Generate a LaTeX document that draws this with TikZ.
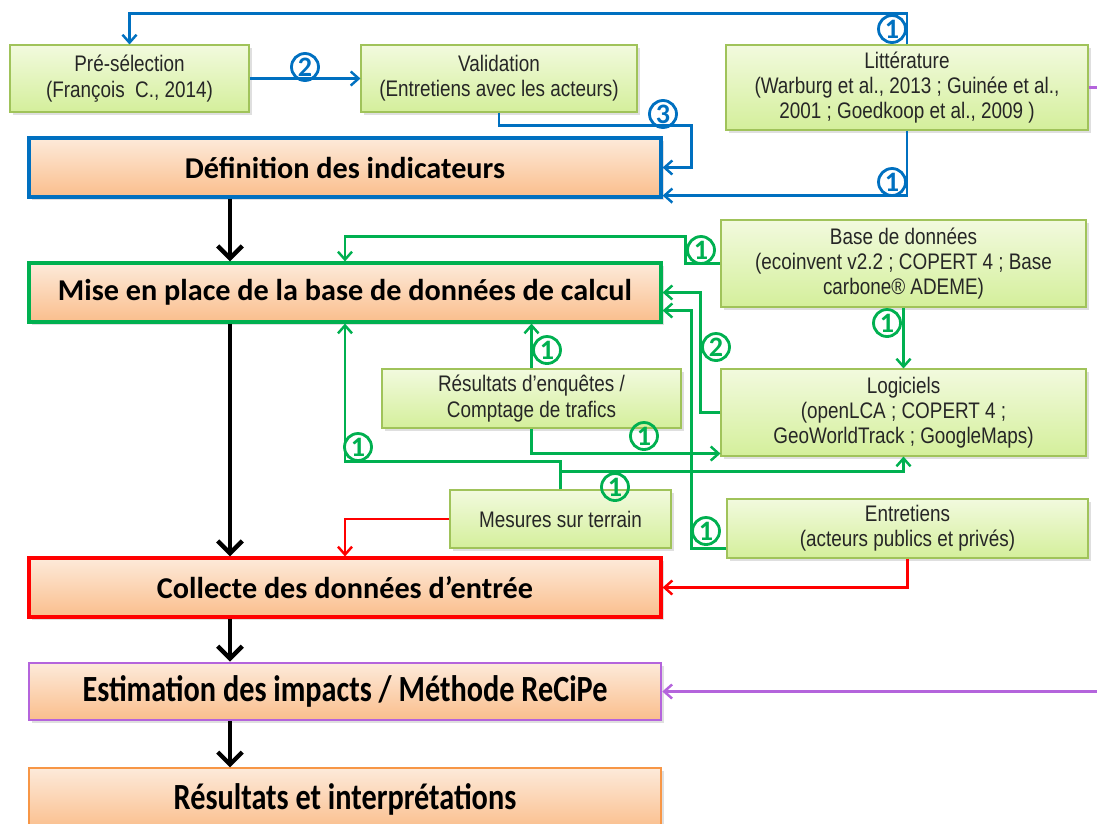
\documentclass[tikz,border=0pt]{standalone}
\usepackage{fontspec}
\newfontfamily\narrowfont{Liberation Sans}[FakeStretch=0.84]
\newfontfamily\titlefont{Carlito}
\newfontfamily\condfont{Carlito}[FakeStretch=0.82]
\usetikzlibrary{calc}
\usetikzlibrary{arrows.meta}
\usetikzlibrary{shadows}
\definecolor{linkblue}{RGB}{0,112,192}
\definecolor{linkgreen}{RGB}{0,176,80}
\definecolor{linkred}{RGB}{255,0,0}
\definecolor{linkpurple}{RGB}{180,100,220}
\definecolor{srcedge}{RGB}{160,195,90}
\definecolor{srctop}{RGB}{242,250,222}
\definecolor{srcbottom}{RGB}{212,239,155}
\definecolor{phasetop}{RGB}{253,234,218}
\definecolor{phasebottom}{RGB}{250,190,140}
\definecolor{phaseedge}{RGB}{247,150,70}
\tikzset{
	boxsize/.style 2 args={
		minimum width=#1*0.2mm,
		minimum height=#2*0.2mm,
	},
	phase/.style={
		draw,
		rectangle,
		inner sep=0pt,
		line width=1.8pt,
		top color=phasetop,
		bottom color=phasebottom,
		drop shadow={opacity=0.25,shadow xshift=1.5pt,shadow yshift=-1.5pt},
		font=\titlefont\bfseries\fontsize{17.2}{19}\selectfont,
	},
	narrowphase/.style={
		phase,
		font=\condfont\bfseries\fontsize{21}{23}\selectfont,
	},
	source/.style={
		draw=srcedge,
		rectangle,
		align=center,
		inner sep=0pt,
		line width=0.6pt,
		top color=srctop,
		bottom color=srcbottom,
		text=black!85,
		drop shadow={opacity=0.25,shadow xshift=1.5pt,shadow yshift=-1.5pt},
		font=\narrowfont\fontsize{12.8}{14.4}\selectfont,
	},
	badge/.style={
		circle,
		draw,
		line width=1.6pt,
		inner sep=0pt,
		minimum size=27*0.2mm,
		font=\titlefont\bfseries\fontsize{16}{16}\selectfont,
	},
	bluebadge/.style={badge, draw=linkblue, text=linkblue},
	greenbadge/.style={badge, draw=linkgreen, text=linkgreen},
	flow/.style={
		line width=1.4pt,
		-{Straight Barb[length=4.5pt,width=8pt]}
	},
	blueflow/.style={flow, linkblue},
	greenflow/.style={flow, linkgreen},
	redflow/.style={flow, linkred},
	purpleflow/.style={flow, linkpurple},
	mainflow/.style={
		line width=2.5pt,
		-{Straight Barb[length=7pt,width=14pt]}
	},
}

\begin{document}
\begin{tikzpicture}[
		x=0.2mm, y=-0.2mm,
	]
	\useasboundingbox (0,0) rectangle (1097,823);

	% main steps
	\node[phase, draw=linkblue, boxsize={632}{59}]		(defin)		at (345,167.5)	{Définition des indicateurs};
	\node[phase, draw=linkgreen, boxsize={632}{59}]		(mise)		at (345,292.5)	{Mise en place de la base de données de calcul};
	\node[phase, draw=linkred, boxsize={632}{59}]		(collect)	at (345,587.5)	{Collecte des données d’entrée};
	\node[narrowphase, draw=linkpurple, line width=1.5pt, boxsize={632}{57}]	(estim)	at (345,691.5)	{Estimation des impacts / Méthode ReCiPe};
	\node[narrowphase, draw=phaseedge, line width=0.6pt, boxsize={632}{62}]		(result)	at (345,799)	{Résultats et interprétations};

	% sources
	\node[source, boxsize={239}{67}]	(presel)	at (129.5,78.5)	{Pré-sélection\\(François \ C., 2014)};
	\node[source, boxsize={276}{67}]	(valid)		at (499,78.5)	{Validation\\(Entretiens avec les acteurs)};
	\node[source, boxsize={362}{85}]	(litt)		at (907,87.5)	{Littérature\\(Warburg et al., 2013 ; Guinée et al.,\\2001 ; Goedkoop et al., 2009 )};
	\node[source, boxsize={365}{87}]	(bdd)		at (903.5,263.5)	{Base de données\\(ecoinvent v2.2 ; COPERT 4 ; Base\\carbone® ADEME)};
	\node[source, boxsize={299}{59}]	(enq)		at (531.5,398.5)	{Résultats d’enquêtes /\\Comptage de trafics};
	\node[source, boxsize={365}{87}]	(logic)		at (903.5,412.5)	{Logiciels\\(openLCA ; COPERT 4 ;\\GeoWorldTrack ; GoogleMaps)};
	\node[source, boxsize={221}{58}]	(mesur)		at (560.5,519)	{Mesures sur terrain};
	\node[source, boxsize={361}{59}]	(entre)		at (907.5,528.5)	{Entretiens\\(acteurs publics et privés)};

	\coordinate (spine) at (230,0);
	\coordinate (recipe) at (1097,691.5);

	\draw[mainflow]		(defin.south -| spine) -- (mise.north -| spine);
	\draw[mainflow]		(mise.south -| spine) -- (collect.north -| spine);
	\draw[mainflow]		(collect.south -| spine) -- (estim.north -| spine);
	\draw[mainflow]		(estim.south -| spine) -- (result.north -| spine);

	\draw[blueflow]		(litt.north) -- ++(0,-31) -| (presel.north);
	\draw[blueflow]		(presel.east) -- (valid.west);
	\draw[blueflow]		(valid.south) -- ++(0,13) -| ($(defin.east)+(29,0)$) -- (defin.east);
	\draw[blueflow]		(litt.south) |- ($(defin.south east)+(0,-3)$);

	\draw[greenflow]	(bdd.west) -- ++(-35,0) -- ++(0,-27) -| (mise.north);
	\draw[greenflow]	(logic.west) -- ++(-20,0) |- (mise.east);
	\draw[greenflow]	($(entre.south west)+(0,-10)$) -- ++(-35,0) |- ($(mise.east)+(0,18)$);
	\draw[greenflow]	(bdd.south) -- (logic.north);
	\draw[greenflow]	(enq.north) -- (enq.north |- mise.south);
	\draw[greenflow]	(enq.south) |- ($(logic.south west)+(0,-3)$);
	\draw[greenflow]	(mesur.north) -- ++(0,-28) -| (mise.south);
	\draw[greenflow]	(mesur.north) -- ++(0,-18) -| (logic.south);

	\draw[redflow]		(mesur.west) -| (collect.north);
	\draw[redflow]		(entre.south) |- (collect.east);

	\draw[purpleflow]	(recipe) -- (estim.east);
	\draw[linkpurple, line width=1.4pt]	(litt.east) -- ++(12,0);

	% step numbers
	\node[bluebadge]	(tagtop)	at (892,29)		{1};
	\node[bluebadge]	(tagpre)	at (305,67)		{2};
	\node[bluebadge]	(tagval)	at (663,114)	{3};
	\node[bluebadge]	(taglit)	at (892,182)	{1};
	\node[greenbadge]	(tagbdd)	at (701,250)	{1};
	\node[greenbadge]	(taglog)	at (716,347)	{2};
	\node[greenbadge]	(tagsoft)	at (887,323)	{1};
	\node[greenbadge]	(tagenq)	at (547,350)	{1};
	\node[greenbadge]	(tagenql)	at (644,436)	{1};
	\node[greenbadge]	(tagmes)	at (358,447)	{1};
	\node[greenbadge]	(tagmesl)	at (615,487)	{1};
	\node[greenbadge]	(tagent)	at (706,531)	{1};
\end{tikzpicture}
\end{document}
